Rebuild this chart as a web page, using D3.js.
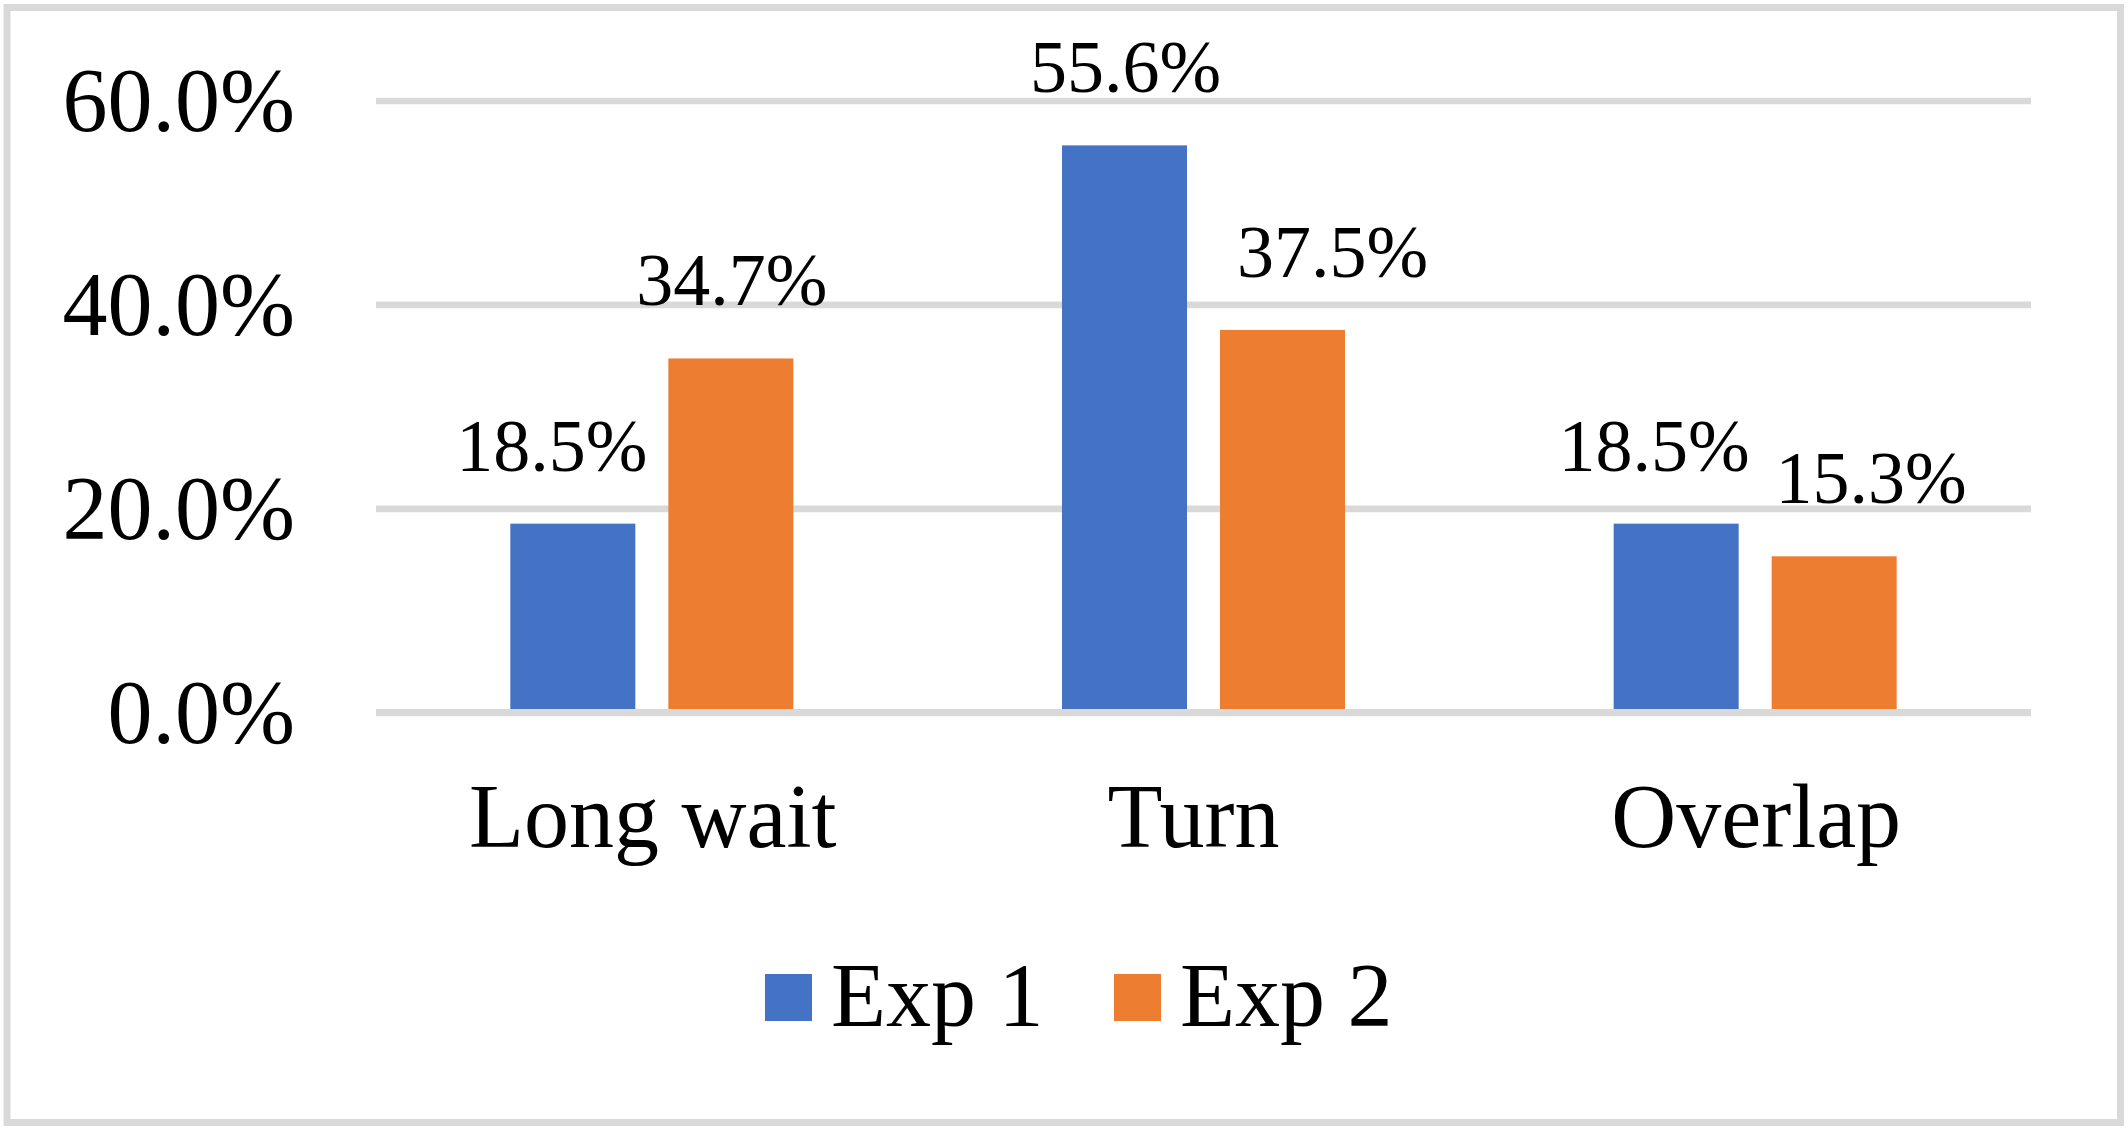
<!DOCTYPE html>
<html>
<head>
<meta charset="utf-8">
<script src="https://cdn.jsdelivr.net/npm/d3@7"></script>
<style>
  html, body { margin: 0; padding: 0; background: #ffffff; }
  svg { display: block; }
  text { font-family: "Liberation Serif", "Times New Roman", "DejaVu Serif", serif; fill: #000; }
</style>
</head>
<body>
<svg id="chart" width="2128" height="1131"></svg>
<script>
// ---- data ----
const categories = ["Long wait", "Turn", "Overlap"];
const seriesNames = ["Exp 1", "Exp 2"];
const exp1Values = [0.185, 0.556, 0.185];
const exp2Values = [0.347, 0.375, 0.153];
const yTickValues = [0, 0.2, 0.4, 0.6];
const seriesColors = ["#4472c4", "#ed7d31"];

// ---- layout (styling, not data) ----
const W = 2128, H = 1131;
const plotLeft = 376, plotRight = 2031;
const plotTop = 100.5, plotBottom = 712.3;
const gridColor = "#d9d9d9", gridWidth = 6.7;
// per-bar horizontal nudges of data labels, as in the original picture
const labelNudge = [[-21, 1], [1, 50], [-22, 37]];
const categoryNudge = [1, -10, 1];

const svg = d3.select("#chart");

// outer border
svg.append("rect")
  .attr("x", 7).attr("y", 7.5)
  .attr("width", W - 14.5).attr("height", H - 16)
  .attr("fill", "#fff")
  .attr("stroke", gridColor).attr("stroke-width", 7);

const x0 = d3.scaleBand().domain(categories).range([plotLeft, plotRight]).paddingInner(0).paddingOuter(0);
const x1 = d3.scaleBand().domain(seriesNames).range([0, x0.bandwidth()]).paddingInner(0.209).paddingOuter(0.85);
const y = d3.scaleLinear().domain([0, 0.6]).range([plotBottom, plotTop]);
const color = d3.scaleOrdinal().domain(seriesNames).range(seriesColors);

// y axis with gridlines
const yAxis = d3.axisLeft(y)
  .tickValues(yTickValues)
  .tickFormat(d3.format(".1%"))
  .tickSizeInner(-(plotRight - plotLeft))
  .tickSizeOuter(0)
  .tickPadding(81);

const gy = svg.append("g").attr("transform", `translate(${plotLeft},0)`).call(yAxis);
gy.select(".domain").remove();
gy.selectAll(".tick line").attr("stroke", gridColor).attr("stroke-width", gridWidth);
gy.selectAll(".tick text")
  .attr("font-size", 90)
  .attr("font-family", "Liberation Serif, Times New Roman, serif")
  .attr("fill", "#000")
  .attr("dy", "0.33em");

// data table
const rows = categories.map((c, i) => ({
  category: c,
  values: [
    { series: seriesNames[0], value: exp1Values[i], nudge: labelNudge[i][0] },
    { series: seriesNames[1], value: exp2Values[i], nudge: labelNudge[i][1] }
  ]
}));

const groups = svg.append("g").selectAll("g")
  .data(rows).join("g")
  .attr("transform", d => `translate(${x0(d.category)},0)`);

groups.selectAll("rect")
  .data(d => d.values).join("rect")
  .attr("x", d => x1(d.series))
  .attr("y", d => y(d.value))
  .attr("width", x1.bandwidth())
  .attr("height", d => y(0) - y(d.value))
  .attr("fill", d => color(d.series));

groups.selectAll("text")
  .data(d => d.values).join("text")
  .attr("x", d => x1(d.series) + x1.bandwidth() / 2 + d.nudge)
  .attr("y", d => y(d.value) - 53)
  .attr("text-anchor", "middle")
  .attr("font-size", 74)
  .text(d => d3.format(".1%")(d.value));

// zero baseline drawn over bar bottoms
svg.append("line")
  .attr("x1", plotLeft).attr("x2", plotRight)
  .attr("y1", y(0)).attr("y2", y(0))
  .attr("stroke", gridColor).attr("stroke-width", gridWidth);

// x axis (category labels)
const xAxis = d3.axisBottom(x0).tickSize(0).tickPadding(71);
const gx = svg.append("g").attr("transform", `translate(0,${y(0)})`).call(xAxis);
gx.select(".domain").remove();
gx.selectAll(".tick text")
  .attr("font-size", 90)
  .attr("font-family", "Liberation Serif, Times New Roman, serif")
  .attr("fill", "#000")
  .attr("x", (d, i) => categoryNudge[i]);

// legend
const legendItems = [
  { name: seriesNames[0], x: 765 },
  { name: seriesNames[1], x: 1114 }
];
const lg = svg.append("g").selectAll("g").data(legendItems).join("g")
  .attr("transform", d => `translate(${d.x},974)`);
lg.append("rect")
  .attr("width", 47).attr("height", 47)
  .attr("fill", d => color(d.name));
lg.append("text")
  .attr("x", 66).attr("y", 52)
  .attr("font-size", 90)
  .text(d => d.name);
</script>
</body>
</html>
